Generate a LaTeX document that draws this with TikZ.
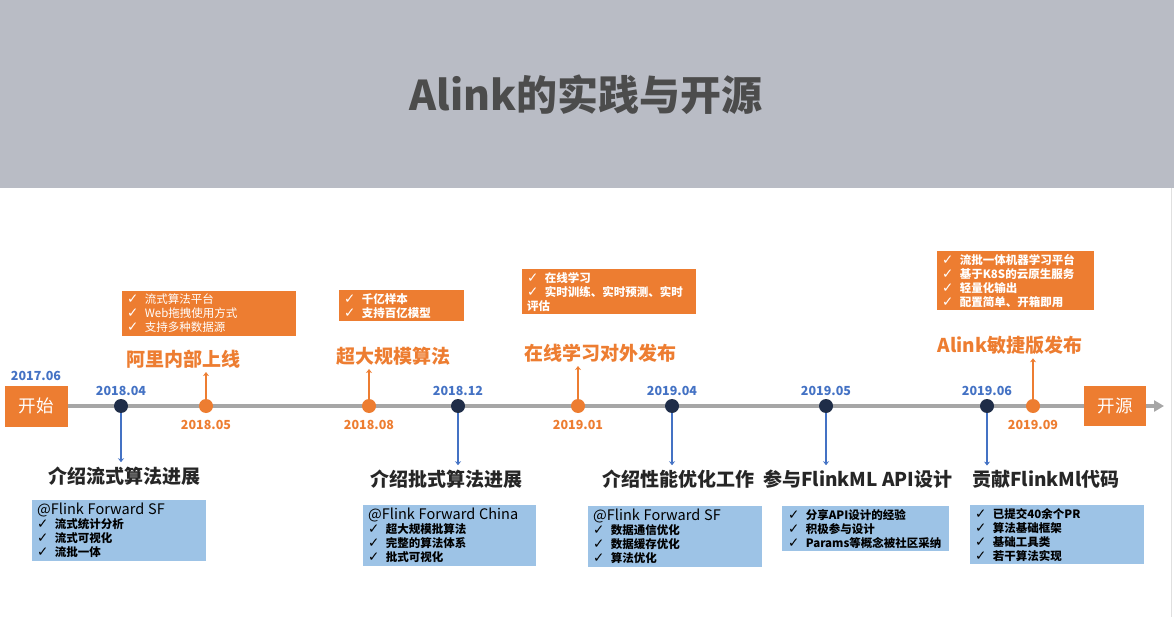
\documentclass[tikz,border=0pt]{standalone}
\usepackage{fontspec}
\setmainfont{Noto Sans CJK SC}
\newfontfamily\symfont{DejaVu Sans}
\usetikzlibrary{arrows.meta}
\definecolor{banner}{HTML}{B9BCC5}
\definecolor{alorange}{HTML}{ED7D31}
\definecolor{alnavy}{HTML}{1F2D48}
\definecolor{alblue}{HTML}{4472C4}
\definecolor{boxblue}{HTML}{9DC3E6}
\definecolor{axisgray}{HTML}{A6A6A6}
\newcommand{\chk}{{\symfont\fontsize{13.5}{14}\selectfont\char"2713}\hspace{0.55em}}

\begin{document}
\begin{tikzpicture}[x=1pt,y=-1pt,
	navydot/.style={circle,fill=alnavy,minimum size=14pt,inner sep=0pt},
	orangedot/.style={circle,fill=alorange,minimum size=14pt,inner sep=0pt},
	bluedate/.style={text=alblue,font=\fontsize{12.5}{14}\bfseries\selectfont,anchor=base,inner sep=0pt},
	orangedate/.style={text=alorange,font=\fontsize{12.5}{14}\bfseries\selectfont,anchor=base,inner sep=0pt},
	headline/.style={text=alorange,font=\fontsize{19}{22}\bfseries\selectfont,anchor=base,inner sep=0pt},
	talk/.style={text=black!85,font=\fontsize{19}{22}\bfseries\selectfont,anchor=base,inner sep=0pt},
	endbox/.style={fill=alorange,text=white,font=\fontsize{17.5}{20}\selectfont,minimum width=63pt,minimum height=41pt,inner sep=0pt},
	obox/.style={fill=alorange,text=white,anchor=north west,align=left,inner xsep=5pt,inner ysep=3pt,font=\fontsize{11.5}{14}\selectfont},
	bbox/.style={fill=boxblue,text=black,anchor=north west,align=left,inner xsep=5pt,inner ysep=3pt,font=\fontsize{11.5}{14}\bfseries\selectfont},
	bluearr/.style={alblue,line width=2.5pt,-{Stealth[length=4pt,width=6pt]},shorten >=4pt},
	orangearr/.style={alorange,line width=2pt,-{Stealth[length=4pt,width=6pt]},shorten >=4pt}]

	\useasboundingbox (0,0) rectangle (1174,617);
	\fill[banner] (0,0) rectangle (1174,188);
	\draw[black!12] (1171,188) -- (1171,617);
	\node[text=black!70,font=\fontsize{41}{46}\bfseries\selectfont] (title) at (586,95) {Alink的实践与开源};

	\node[endbox] (start) at (36,406) {开始};
	\node[endbox,minimum width=62pt,minimum height=40pt] (stop) at (1115,406) {开源};
	\coordinate (tip) at (1164,406);
	\draw[axisgray,line width=3.5pt] (start.east) -- (stop.west);
	\draw[axisgray,line width=3.5pt,-{Triangle[length=10pt,width=11pt]}] (stop.east) -- (tip);
	\node[bluedate] (l1706) at (36,380) {2017.06};

	\foreach \name/\x/\date in {1804/121/2018.04,1812/458/2018.12,1904/672/2019.04,1905/826/2019.05,1906/987/2019.06}{
		\node[navydot] (d\name) at (\x,406) {};
		\node[bluedate] (ld\name) at (\x,395) {\date};
	}
	\foreach \name/\x/\date in {1805/206/2018.05,1808/369/2018.08,1901/578/2019.01,1909/1033/2019.09}{
		\node[orangedot] (o\name) at (\x,406) {};
		\node[orangedate] (lo\name) at (\x,429) {\date};
	}

	\node[headline] (h1805) at (183,366) {阿里内部上线};
	\node[headline] (h1808) at (393,363) {超大规模算法};
	\node[headline] (h1901) at (600,360) {在线学习对外发布};
	\node[headline] (h1909) at (1010,352) {Alink敏捷版发布};
	\foreach \name in {1805,1808,1901,1909}
		\draw[orangearr] (o\name) -- (o\name |- h\name.south);

	\node[talk] (t1804) at (124,483) {介绍流式算法进展};
	\node[talk] (t1812) at (446,486) {介绍批式算法进展};
	\node[talk] (t1904) at (678,486) {介绍性能优化工作};
	\node[talk] (t1905) at (858,486) {参与FlinkML API设计};
	\node[talk] (t1906) at (1046,486) {贡献FlinkMl代码};
	\foreach \name in {1804,1812,1904,1905,1906}
		\draw[bluearr] (d\name) -- (d\name |- t\name.north);

	\node[obox,text width=164pt] (n1805) at (122,291) {\chk 流式算法平台\\\chk Web拖拽使用方式\\\chk 支持多种数据源};
	\node[obox,text width=115pt,font=\fontsize{11.5}{14}\bfseries\selectfont] (n1808) at (339,290) {\chk 千亿样本\\\chk 支持百亿模型};
	\node[obox,text width=164pt,font=\fontsize{11.5}{14}\bfseries\selectfont] (n1901) at (522,269) {\chk 在线学习\\\chk 实时训练、实时预测、实时\\评估};
	\node[obox,text width=147pt,font=\fontsize{11.5}{14}\bfseries\selectfont] (n1909) at (937,251) {\chk 流批一体机器学习平台\\\chk 基于K8S的云原生服务\\\chk 轻量化输出\\\chk 配置简单、开箱即用};

	\node[bbox,text width=164pt] (b1804) at (32,500) {{\fontsize{14.5}{17}\mdseries\selectfont @Flink Forward SF}\\\chk 流式统计分析\\\chk 流式可视化\\\chk 流批一体};
	\node[bbox,text width=163pt] (b1812) at (363,505) {{\fontsize{14.5}{17}\mdseries\selectfont @Flink Forward China}\\\chk 超大规模批算法\\\chk 完整的算法体系\\\chk 批式可视化};
	\node[bbox,text width=164pt] (b1904) at (588,506) {{\fontsize{14.5}{17}\mdseries\selectfont @Flink Forward SF}\\\chk 数据通信优化\\\chk 数据缓存优化\\\chk 算法优化};
	\node[bbox,text width=155pt,inner xsep=6pt] (b1905) at (782,506) {\chk 分享API设计的经验\\\chk 积极参与设计\\\chk Params等概念被社区采纳};
	\node[bbox,text width=164pt] (b1906) at (970,505) {\chk 已提交40余个PR\\\chk 算法基础框架\\\chk 基础工具类\\\chk 若干算法实现};

\end{tikzpicture}
\end{document}
